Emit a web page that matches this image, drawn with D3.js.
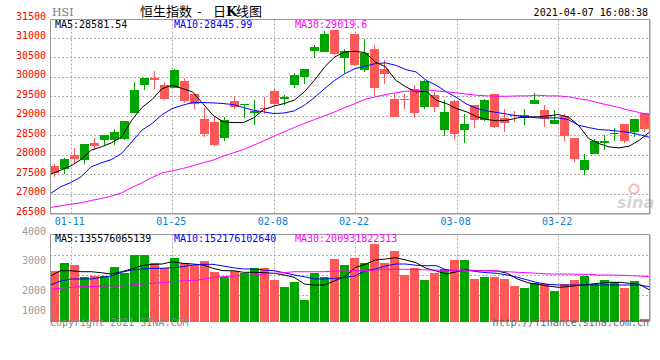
<!DOCTYPE html>
<html><head><meta charset="utf-8">
<script src="https://cdn.jsdelivr.net/npm/d3@7"></script>
<style>body{margin:0;background:#fff}svg{display:block}</style>
</head><body><svg id="c" width="660" height="360"></svg>
<script>
const dates=["01-07","01-08","01-11","01-12","01-13","01-14","01-15","01-18","01-19","01-20","01-21","01-22","01-25","01-26","01-27","01-28","01-29",
"02-01","02-02","02-03","02-04","02-05","02-08","02-09","02-10","02-11","02-16","02-17","02-18","02-19","02-22","02-23","02-24","02-25","02-26",
"03-01","03-02","03-03","03-04","03-05","03-08","03-09","03-10","03-11","03-12","03-15","03-16","03-17","03-18","03-19","03-22","03-23","03-24","03-25","03-26","03-29","03-30","03-31",
"04-01","04-07"];
const open=[27718,27633,28000,27881,28298,28383,28375,28417,29073,29789,29960,29781,29720,29883,29550,28911,28835,28434,29371,29269,29073,29209,29627,29422,29780,29993,30658,30632,31187,30479,31084,30164,30700,30189,29422,29439,29695,29226,29525,28631,29380,28631,29269,28903,29550,28945,29030,28945,29303,29158,28801,28997,28434,27608,28017,28306,28528,28801,28588,29082];
const close=[27540,27889,27897,28272,28230,28502,28579,28860,29653,29960,29926,29431,30160,29372,29295,28528,28247,28886,29226,29312,29124,29184,29295,29482,30036,30189,30760,31084,30573,30649,30292,30615,29712,30061,28971,29414,29073,29883,29226,29099,28528,28783,28886,29397,28716,28818,28997,29030,29397,28929,28886,28485,27906,27880,28349,28349,28570,28357,28929,28656];
const high=[27761,27923,28170,28272,28426,28502,28656,28860,29857,29960,30138,29857,30200,29968,29550,29201,28971,28971,29516,29312,29414,29482,29695,29525,30096,30189,30803,31160,31187,30717,31084,30956,30803,30436,29567,29567,29780,29925,29610,29397,29397,29040,29269,29422,29550,29184,29116,29184,29593,29269,29141,29040,28434,28034,28417,28502,28698,28801,28929,29082];
const low=[27437,27505,27761,27761,28119,28247,28247,28375,29073,29653,29687,29397,29700,29330,29167,28460,28230,28357,29175,28945,28775,29056,29243,29278,29712,29823,30479,30632,30547,30096,30266,30121,29500,29823,28971,29167,28945,29184,29099,28485,28400,28315,28690,28860,28690,28588,28843,28775,29303,28716,28801,28357,27821,27497,28017,28119,28357,28306,28460,28588];
const volume=[2722,2993,2915,2519,2542,2542,2858,2634,3254,3254,2993,2803,3163,2993,2915,3051,2688,2519,2722,2654,2824,2824,2407,2180,2349,1729,2654,2498,3119,2915,3163,2993,3627,2973,3400,2576,2803,2407,2654,2780,3085,3085,2441,2519,2519,2441,2203,2146,2295,2261,2044,2271,2407,2553,2271,2407,2349,2146,2383,1085];
const ma5=[27505,27608,27718,27880,28119,28204,28306,28460,28886,29210,29414,29695,29780,29695,29610,29312,29013,28843,28826,28826,28945,29159,29244,29312,29397,29610,29908,30249,30505,30632,30649,30615,30377,30249,29908,29738,29610,29627,29397,29312,29184,29099,28971,28903,28869,28886,28945,28971,28971,28997,29030,28971,28758,28417,28290,28204,28179,28221,28375,28582];
const ma10=[27011,27182,27292,27437,27693,27795,27880,28034,28332,28630,28800,29030,29184,29269,29337,29337,29329,29312,29286,29210,29141,29100,29056,29070,29124,29269,29465,29695,29908,30078,30206,30266,30334,30351,30291,30180,30121,29908,29780,29610,29465,29295,29184,29124,29082,29039,28997,28971,28945,28945,28945,28903,28758,28699,28647,28630,28605,28571,28519,28446];
const ma30=[26653,26696,26739,26773,26832,26883,26943,27028,27165,27284,27420,27540,27591,27650,27718,27795,27863,27966,28051,28136,28247,28357,28477,28588,28699,28801,28903,28997,29099,29210,29312,29423,29482,29542,29585,29627,29636,29670,29636,29610,29585,29551,29525,29508,29499,29499,29508,29508,29525,29508,29508,29482,29440,29397,29329,29269,29210,29141,29082,29020];
const vma5=[2542,2722,2722,2688,2688,2654,2610,2688,2780,2892,2939,2949,3027,2973,2949,2915,2803,2722,2722,2668,2668,2654,2634,2576,2498,2271,2237,2237,2383,2519,2824,2939,3085,3119,3163,3085,2993,2803,2712,2610,2688,2746,2722,2722,2712,2634,2441,2315,2261,2203,2159,2180,2227,2261,2295,2329,2329,2295,2261,2068];
const vma10=[2237,2373,2441,2441,2441,2498,2542,2668,2746,2780,2803,2803,2824,2858,2915,2939,2939,2881,2824,2780,2780,2746,2722,2654,2576,2519,2441,2441,2464,2498,2542,2722,2780,2881,2949,2949,2905,2892,2892,2746,2722,2746,2688,2654,2634,2576,2498,2407,2315,2261,2237,2237,2237,2237,2237,2237,2237,2237,2237,2180];
const vma30=[2092,2126,2159,2180,2180,2203,2203,2203,2237,2271,2295,2315,2349,2383,2383,2431,2498,2519,2542,2556,2576,2610,2634,2654,2688,2688,2688,2688,2712,2712,2722,2722,2746,2770,2770,2770,2770,2746,2746,2722,2722,2722,2722,2722,2712,2688,2668,2654,2634,2610,2610,2610,2600,2600,2576,2576,2570,2556,2542,2519];
const priceTicks=[26500,27000,27500,28000,28500,29000,29500,30000,30500,31000,31500];
const volTicks=[1000,2000,3000,4000];
const dateTicks=["01-11","01-25","02-08","02-22","03-08","03-22"];
const priceLegend=["MA5:28581.54","MA10:28445.99","MA30:29019.6"];
const volLegend=["MA5:135576065139","MA10:152176102640","MA30:200931822313"];
const legendColors=["#000000","#0000ff","#ff00ff"];

const svg=d3.select("#c");
const MONO="'DejaVu Sans Mono','Liberation Mono',monospace";
const RED="#ff5858", GREEN="#00a600", GRID="#aaaaaa", FRAME="#999999";
const L=50,R=649.5,PT=19.5,PB=213.5,VT=234.5,VB=321.5;
const idx=d3.range(dates.length);
const xb=d3.scaleBand().domain(idx).range([50,650]).padding(0);
const xp=d3.scalePoint().domain(idx).range([50.5,649.5]);
const y=d3.scaleLinear().domain([26500,31500]).range([213.5,18]);
const vy=d3.scaleLinear().domain([1000,4000]).range([321.5,233]);
const col=i=>close[i]>open[i]?GREEN:RED;
const crisp=v=>Math.round(v)+0.5;

// header
svg.append("text").attr("x",52).attr("y",16).attr("font-family","'DejaVu Serif',serif").attr("font-size",11).attr("fill","#777").text("HSI");
const tt=svg.append("text").attr("y",16).attr("font-family","'Noto Sans CJK SC',sans-serif").attr("font-size",13).attr("fill","#000");
tt.append("tspan").attr("x",140).text("恒生指数");
tt.append("tspan").attr("x",197).text("-");
tt.append("tspan").attr("x",213).text("日");
tt.append("tspan").attr("x",226).attr("font-weight","bold").attr("font-family","'DejaVu Serif',serif").text("K");
tt.append("tspan").attr("x",236).text("线图");
svg.append("text").attr("x",648).attr("y",16).attr("text-anchor","end").attr("font-family",MONO).attr("font-size",10).attr("fill","#000").text("2021-04-07 16:08:38");

// price grid
const g=svg.append("g");
priceTicks.filter(t=>t>26500&&t<31500).forEach(t=>{
  g.append("line").attr("x1",L).attr("x2",R).attr("y1",crisp(y(t))).attr("y2",crisp(y(t))).attr("stroke",GRID).attr("stroke-dasharray","2,2");
});
dateTicks.forEach(d=>{
  const x=crisp(xp(dates.indexOf(d)));
  g.append("line").attr("x1",x).attr("x2",x).attr("y1",PT).attr("y2",PB).attr("stroke",GRID).attr("stroke-dasharray","2,2");
  g.append("line").attr("x1",x).attr("x2",x).attr("y1",VT).attr("y2",VB).attr("stroke",GRID).attr("stroke-dasharray","2,2");
  g.append("text").attr("x",xp(dates.indexOf(d))-1).attr("y",224.5).attr("text-anchor","middle").attr("font-family",MONO).attr("font-size",10).attr("fill","#0a7bd6").text(d);
});
priceTicks.forEach(t=>{
  g.append("text").attr("x",46).attr("y",y(t)+1.5).attr("text-anchor","end").attr("font-family",MONO).attr("font-size",10).attr("fill","#ff0000").text(t);
});
// volume grid
[255,275,295].forEach(v=>{
  g.append("line").attr("x1",L).attr("x2",R).attr("y1",v+0.5).attr("y2",v+0.5).attr("stroke",GRID).attr("stroke-dasharray","2,2");
});
volTicks.forEach(t=>{
  g.append("text").attr("x",46).attr("y",Math.min(vy(t),312.7)+1.5).attr("text-anchor","end").attr("font-family",MONO).attr("font-size",10).attr("fill","#999").text(t);
});

// watermark
svg.append("circle").attr("cx",634).attr("cy",189).attr("r",4.5).attr("fill","none").attr("stroke","#f4b8b8").attr("stroke-width",2);
svg.append("text").attr("x",617).attr("y",208).attr("font-family","'DejaVu Sans',sans-serif").attr("font-style","italic").attr("font-weight","bold").attr("font-size",16).attr("fill","#d4d4d4").text("sina");

// candles
const cg=svg.append("g").attr("shape-rendering","crispEdges");
idx.forEach(i=>{
  const x=xb(i);
  cg.append("rect").attr("x",x+4).attr("width",1).attr("y",y(high[i])).attr("height",Math.max(1,y(low[i])-y(high[i]))).attr("fill",col(i));
  const t=y(Math.max(open[i],close[i])), b=y(Math.min(open[i],close[i]));
  cg.append("rect").attr("x",x).attr("width",xb.bandwidth()-1).attr("y",t).attr("height",Math.max(1,b-t)).attr("fill",col(i));
  cg.append("rect").attr("x",x).attr("width",xb.bandwidth()-1).attr("y",vy(volume[i])).attr("height",vy(1000)-vy(volume[i])).attr("fill",col(i));
});
// MA lines
const pl=d3.line().x((d,i)=>xp(i)).y(d=>y(d));
const vl=d3.line().x((d,i)=>xp(i)).y(d=>vy(d));
[[ma5,0],[ma10,1],[ma30,2]].forEach(([a,k])=>svg.append("path").attr("d",pl(a)).attr("fill","none").attr("stroke",legendColors[k]).attr("stroke-width",1));
[[vma5,0],[vma10,1],[vma30,2]].forEach(([a,k])=>svg.append("path").attr("d",vl(a)).attr("fill","none").attr("stroke",legendColors[k]).attr("stroke-width",1));

// frames
const fr=svg.append("g").attr("stroke",FRAME).attr("fill","none");
fr.append("path").attr("d",`M${L+0.5},${PT}V${PB}H${R}V${PT}H${L+0.5}`).attr("stroke-width",1);
fr.append("line").attr("x1",L).attr("x2",R).attr("y1",PB+0.5).attr("y2",PB+0.5).attr("stroke-width",1);
fr.append("line").attr("x1",R+0.5).attr("x2",R+0.5).attr("y1",PT).attr("y2",PB+1).attr("stroke-width",1);
fr.append("path").attr("d",`M${L+0.5},${VB}V${VT}H${R}V${VB}`).attr("stroke-width",1);
fr.append("line").attr("x1",R+0.5).attr("x2",R+0.5).attr("y1",VT).attr("y2",VB).attr("stroke-width",1);

// legends
priceLegend.forEach((s,k)=>svg.append("text").attr("x",[55,174,295][k]).attr("y",28).attr("font-family",MONO).attr("font-size",10).attr("fill",legendColors[k]).text(s));
volLegend.forEach((s,k)=>svg.append("text").attr("x",[55,174,295][k]).attr("y",242).attr("font-family",MONO).attr("font-size",10).attr("fill",legendColors[k]).text(s));

// footer
svg.append("text").attr("x",50).attr("y",326).attr("font-family",MONO).attr("font-size",10).attr("fill","#888").text("Copyright 2021 SINA.COM");
svg.append("text").attr("x",649).attr("y",326).attr("text-anchor","end").attr("font-family",MONO).attr("font-size",10).attr("fill","#666").text("http://finance.sina.com.cn");
</script></body></html>
